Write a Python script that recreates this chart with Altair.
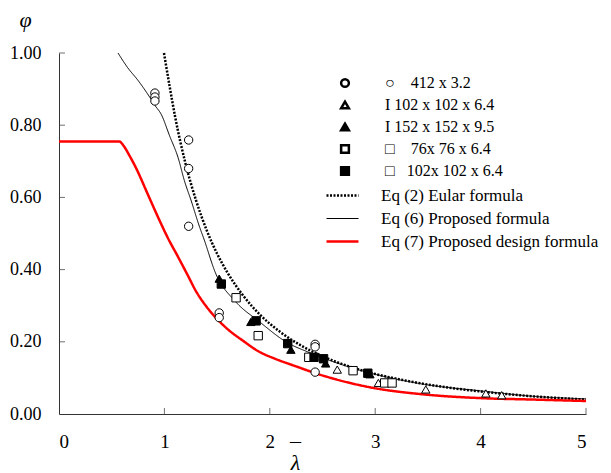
import altair as alt
import pandas as pd

SERIF = "Liberation Serif"
NB = "\u00a0"

lam_ticks = [0, 1, 2, 3, 4, 5]
phi_ticks = [0.0, 0.2, 0.4, 0.6, 0.8, 1.0]

# ---- test specimens ----
spec_names = ["○" + NB * 4 + "412 x 3.2",
              NB + "I 102 x 102 x 6.4",
              NB + "I 152 x 152 x 9.5",
              "□" + NB * 4 + "76x 76 x 6.4",
              "□" + NB * 3 + "102x 102 x 6.4"]

circ_lam = [0.91, 0.91, 0.91, 1.23, 1.23, 1.23, 1.52, 1.52, 2.43, 2.43, 2.43]
circ_phi = [0.889, 0.878, 0.867, 0.759, 0.680, 0.520, 0.280, 0.267, 0.193, 0.186, 0.116]

otri_lam = [2.64, 3.03, 3.48, 4.05, 4.20]
otri_phi = [0.123, 0.086, 0.068, 0.057, 0.052]

ftri_lam = [1.52, 1.82, 2.20, 2.53, 2.95]
ftri_phi = [0.375, 0.255, 0.178, 0.140, 0.110]

osq_lam = [1.68, 1.89, 2.37, 2.79, 3.09, 3.16]
osq_phi = [0.322, 0.217, 0.157, 0.120, 0.086, 0.086]

fsq_lam = [1.54, 1.87, 2.17, 2.42, 2.51, 2.93]
fsq_phi = [0.360, 0.258, 0.195, 0.157, 0.153, 0.113]

# ---- curves ----
line_names = ["Eq (2) Eular formula", "Eq (6) Proposed formula",
              "Eq (7) Proposed design formula"]

euler_lam = [0.996, 1.05, 1.10, 1.20, 1.30, 1.40, 1.50, 1.60, 1.75, 1.90,
             2.10, 2.30, 2.50, 2.75, 3.00, 3.30, 3.60, 4.00, 4.50, 5.00]
euler_phi = [1.000, 0.907, 0.826, 0.694, 0.592, 0.510, 0.444, 0.391, 0.327, 0.277,
             0.227, 0.189, 0.160, 0.132, 0.111, 0.092, 0.077, 0.0625, 0.049, 0.040]

prop_lam = [0.56, 0.65, 0.75, 0.86, 0.91, 0.97, 1.05, 1.13, 1.19, 1.255, 1.335,
            1.37, 1.49, 1.67, 1.90, 2.17, 2.36, 2.68, 2.96, 3.47, 4.00, 4.50, 5.00]
prop_phi = [1.000, 0.960, 0.924, 0.878, 0.855, 0.830, 0.770, 0.710, 0.646, 0.590, 0.517,
            0.489, 0.387, 0.313, 0.256, 0.197, 0.172, 0.137, 0.113, 0.082, 0.064, 0.049, 0.042]

design_lam = [0.0, 0.57, 0.62, 0.67, 0.73, 0.845, 0.94, 1.034, 1.13, 1.22, 1.30, 1.40,
              1.50, 1.60, 1.75, 1.89, 2.05, 2.20, 2.52, 2.95, 3.47, 4.00, 4.50, 5.00]
design_phi = [0.755, 0.755, 0.740, 0.715, 0.682, 0.607, 0.545, 0.487, 0.435, 0.385, 0.340, 0.297,
              0.263, 0.235, 0.202, 0.174, 0.153, 0.137, 0.105, 0.074, 0.054, 0.044, 0.040, 0.036]

pts = pd.concat([
    pd.DataFrame({"lam": circ_lam, "phi": circ_phi, "spec": spec_names[0]}),
    pd.DataFrame({"lam": otri_lam, "phi": otri_phi, "spec": spec_names[1]}),
    pd.DataFrame({"lam": ftri_lam, "phi": ftri_phi, "spec": spec_names[2]}),
    pd.DataFrame({"lam": osq_lam, "phi": osq_phi, "spec": spec_names[3]}),
    pd.DataFrame({"lam": fsq_lam, "phi": fsq_phi, "spec": spec_names[4]}),
], ignore_index=True)

curves = pd.concat([
    pd.DataFrame({"lam": euler_lam, "phi": euler_phi, "curve": line_names[0]}),
    pd.DataFrame({"lam": prop_lam, "phi": prop_phi, "curve": line_names[1]}),
    pd.DataFrame({"lam": design_lam, "phi": design_phi, "curve": line_names[2]}),
], ignore_index=True)

xscale = alt.Scale(domain=[0, 5], nice=False)
yscale = alt.Scale(domain=[0, 1], nice=False)

xaxis = alt.Axis(values=lam_ticks, format="d", ticks=False, labelPadding=18,
                 labelFontSize=19, title=["_", "λ"], titleFontSize=22,
                 titleFontWeight="normal", titleFontStyle="italic",
                 titleBaseline="alphabetic", titleY=25, titleX=236,
                 titleLineHeight=30)
yaxis = alt.Axis(values=phi_ticks, format=".2f", ticks=False, labelPadding=18,
                 labelFontSize=18, title="φ", titleAngle=0, titleFontSize=22,
                 titleFontWeight="normal", titleFontStyle="italic",
                 titleBaseline="alphabetic", titleAlign="center",
                 titleX=-34, titleY=-27)

line_legend = alt.Legend(orient="none", legendX=275, legendY=134, title=None,
                         symbolType="stroke", symbolSize=1024, labelFontSize=17,
                         labelOffset=30, rowPadding=5, labelLimit=0,
                         symbolStrokeWidth=alt.expr(
                             "datum.label == 'Eq (6) Proposed formula' ? 1.2 : 2.5"))

lines = alt.Chart(curves).mark_line(interpolate="monotone").encode(
    x=alt.X("lam:Q", scale=xscale, axis=xaxis),
    y=alt.Y("phi:Q", scale=yscale, axis=yaxis),
    color=alt.Color("curve:N", scale=alt.Scale(domain=line_names,
                    range=["black", "black", "#ff0000"]), legend=line_legend),
    strokeDash=alt.StrokeDash("curve:N", scale=alt.Scale(domain=line_names,
                              range=[[2, 1.5], [1, 0], [1, 0]]), legend=line_legend),
    strokeWidth=alt.condition(alt.datum.curve == line_names[1], alt.value(1), alt.value(2.5)),
    order="lam:Q",
)

spec_legend = alt.Legend(orient="none", legendX=278, legendY=22, title=None,
                         symbolSize=60, symbolStrokeWidth=2.5, labelFontSize=16,
                         labelOffset=32, rowPadding=4, labelLimit=0)

points = alt.Chart(pts).mark_point(size=70, strokeWidth=1, opacity=1, fillOpacity=1,
                                   strokeOpacity=1).encode(
    x=alt.X("lam:Q"),
    y=alt.Y("phi:Q"),
    shape=alt.Shape("spec:N", scale=alt.Scale(domain=spec_names,
                    range=["circle", "triangle-up", "triangle-up", "square", "square"]),
                    legend=spec_legend),
    fill=alt.Fill("spec:N", scale=alt.Scale(domain=spec_names,
                  range=["white", "white", "black", "white", "black"]),
                  legend=spec_legend),
    stroke=alt.Stroke("spec:N", scale=alt.Scale(domain=spec_names,
                      range=["black"] * 5), legend=spec_legend),
)

xt = alt.Chart(pd.DataFrame({"lam": lam_ticks[1:]})).mark_tick(
    orient="vertical", size=6, yOffset=-3, thickness=1, color="#333").encode(
    x="lam:Q", y=alt.datum(0))
yt = alt.Chart(pd.DataFrame({"phi": phi_ticks[1:]})).mark_tick(
    orient="horizontal", size=6, xOffset=3, thickness=1, color="#333").encode(
    y="phi:Q", x=alt.datum(0))

chart = alt.layer(lines, xt, yt, points).properties(
    width=527, height=361,
    padding={"left": 1, "top": 0, "right": 0, "bottom": 0},
).configure_view(stroke=None).configure_axis(
    grid=False, domainColor="#333", domainWidth=1, labelColor="black",
    titleColor="black", labelFont=SERIF, titleFont=SERIF,
).configure_legend(labelFont=SERIF, labelColor="black", padding=0)

chart.save("out.html", embed_options={"renderer": "svg", "actions": False})
